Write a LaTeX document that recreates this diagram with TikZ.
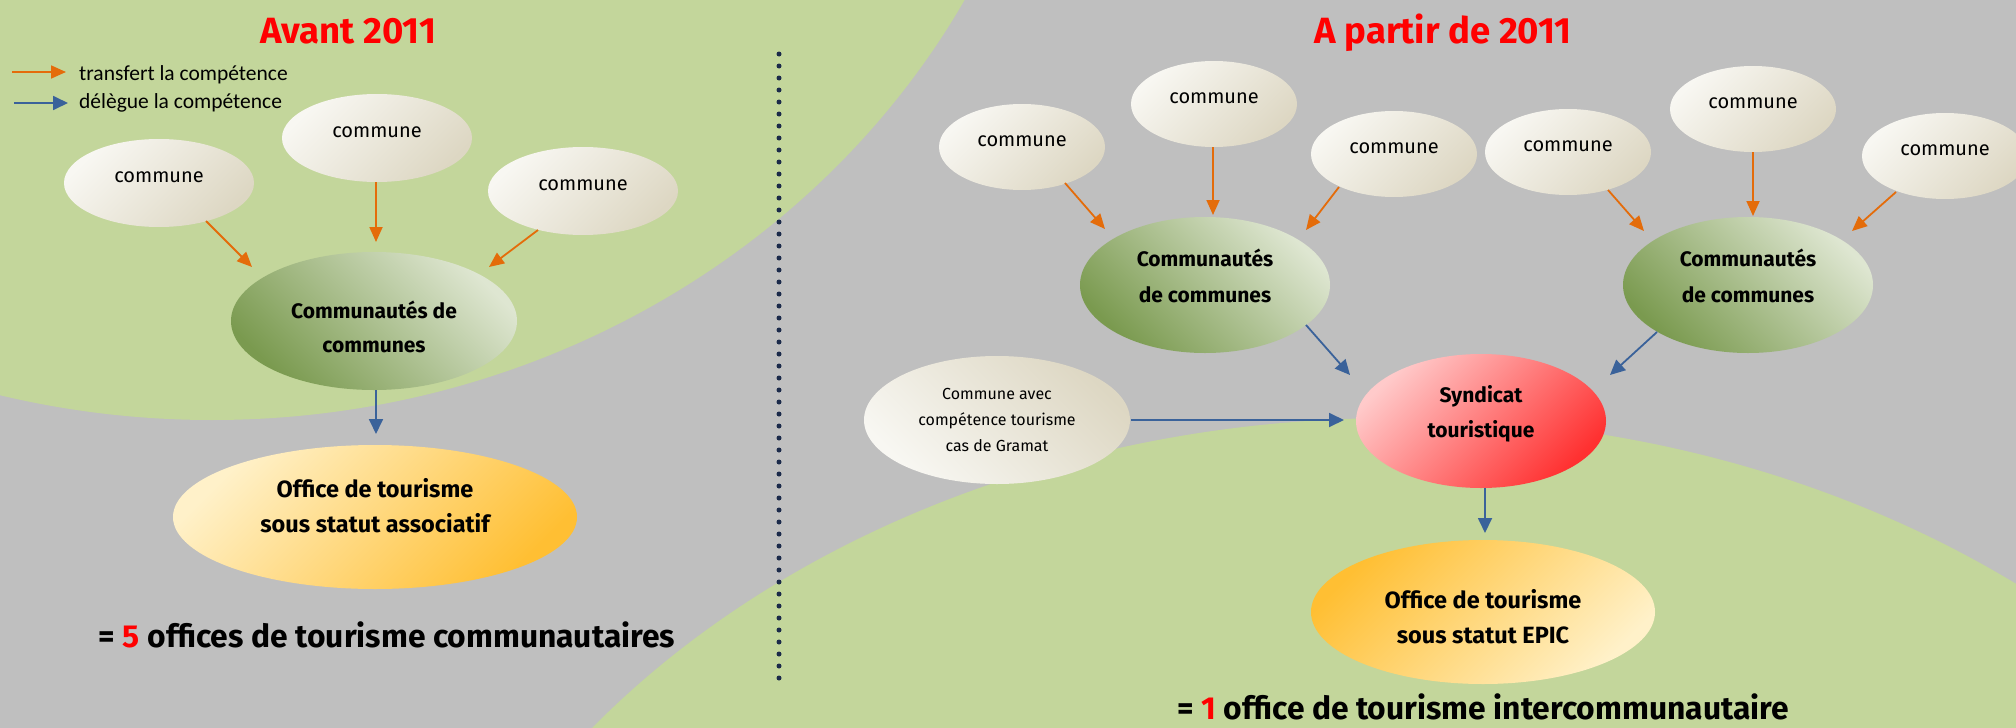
\documentclass[tikz,border=0pt]{standalone}
\usepackage{fontspec}
\setmainfont{Fira Sans}
\newfontfamily\legfont{Carlito}
\usetikzlibrary{shapes.geometric,arrows.meta,calc}
\definecolor{bggray}{HTML}{BFBFBF}
\definecolor{bggreen}{HTML}{C3D69B}
\definecolor{comL}{HTML}{F8F7F2}
\definecolor{comD}{HTML}{DDD7C3}
\definecolor{cdcL}{HTML}{DEE6D1}
\definecolor{cdcD}{HTML}{7A9A4F}
\definecolor{offL}{HTML}{FFF1C9}
\definecolor{offD}{HTML}{FFBF33}
\definecolor{synL}{HTML}{FFCACA}
\definecolor{synD}{HTML}{FF3030}
\definecolor{arrorange}{HTML}{E46C0A}
\definecolor{arrblue}{HTML}{3A629A}
\definecolor{dotnavy}{HTML}{1B2A4A}
\begin{document}
\begin{tikzpicture}[x=1pt,y=-1pt,
  comA/.style={ellipse,inner sep=0pt,minimum width=190pt,minimum height=88pt,top color=comL,bottom color=comD,shading angle=45},
  comB/.style={ellipse,inner sep=0pt,minimum width=166pt,minimum height=86pt,top color=comL,bottom color=comD,shading angle=45},
  gramshape/.style={ellipse,inner sep=0pt,minimum width=266pt,minimum height=128pt,top color=comD,bottom color=comL,shading angle=-45},
  cdcshape/.style={ellipse,inner sep=0pt,top color=cdcL,bottom color=cdcD,shading angle=-45},
  offAshape/.style={ellipse,inner sep=0pt,minimum width=404pt,minimum height=144pt,top color=offL,bottom color=offD,shading angle=45},
  offBshape/.style={ellipse,inner sep=0pt,minimum width=344pt,minimum height=144pt,top color=offD,bottom color=offL,shading angle=45},
  synshape/.style={ellipse,inner sep=0pt,minimum width=250pt,minimum height=134pt,top color=synL,bottom color=synD,shading angle=45},
  lblR/.style={inner sep=0pt,align=center,font=\fontsize{20}{20}\selectfont},
  lblS/.style={inner sep=0pt,align=center,font=\fontsize{16}{26}\selectfont},
  lblB/.style={inner sep=0pt,align=center,font=\bfseries\fontsize{21}{34}\selectfont},
  lblO/.style={inner sep=0pt,align=center,font=\bfseries\fontsize{23.5}{35}\selectfont},
  ttl/.style={inner sep=0pt,anchor=base,text=red,font=\bfseries\fontsize{36.5}{36.5}\selectfont},
  total/.style={inner sep=0pt,anchor=base,font=\bfseries\fontsize{31.8}{31.8}\selectfont},
  legtext/.style={inner sep=0pt,anchor=base west,font=\legfont\fontsize{21.5}{21.5}\selectfont},
  oarr/.style={draw=arrorange,line width=1.8pt,-{Triangle[length=15pt,width=13pt]}},
  barr/.style={draw=arrblue,line width=1.8pt,-{Triangle[length=15pt,width=14pt]}},
  sepline/.style={draw=dotnavy,line width=5pt,line cap=round,dash pattern=on 0pt off 12pt}]
\useasboundingbox (0,0) rectangle (2016,728);
% background
\fill[bggray] (0,0) rectangle (2016,728);
\begin{scope}
  \clip (0,0) rectangle (2016,728);
  \fill[bggreen] (212,-380) ellipse [x radius=855, y radius=800];
  \fill[bggreen] (1396,1218) ellipse [x radius=1017, y radius=800];
\end{scope}

% titles
\node[ttl] (titleA) at (348,43) {Avant 2011};
\node[ttl] (titleB) at (1443,43) {A partir de 2011};

% legend
\coordinate (lgO1) at (12,72);
\coordinate (lgO2) at (66,72);
\draw[oarr] (lgO1) -- (lgO2);
\node[legtext] (lgOt) at (79,80) {transfert la compétence};
\coordinate (lgB1) at (14,103);
\coordinate (lgB2) at (68,103);
\draw[barr] (lgB1) -- (lgB2);
\node[legtext] (lgBt) at (79,108) {délègue la compétence};

% separator
\coordinate (sepT) at (779,54);
\coordinate (sepB) at (779,683);
\draw[sepline] (sepT) -- (sepB);

% ===== left panel =====
\node[comA] (c1) at (159,183) {};
\node[lblR] (c1t) at ($(c1)+(0,-5.5)$) {commune};
\node[comA] (c2) at (377,138) {};
\node[lblR] (c2t) at ($(c2)+(0,-5.5)$) {commune};
\node[comA] (c3) at (583,191) {};
\node[lblR] (c3t) at ($(c3)+(0,-5.5)$) {commune};
\node[cdcshape,minimum width=286pt,minimum height=138pt] (cdcA) at (374,321) {};
\node[lblB] (cdcAt) at ($(cdcA)+(0,6)$) {Communautés de\\communes};
\node[offAshape] (offA) at (375,517) {};
\node[lblO] (offAt) at ($(offA)+(0,-11)$) {Office de tourisme\\sous statut associatif};
\node[total] (totA) at (387,647) {= {\color{red}5} offices de tourisme communautaires};

\draw[oarr] ($(c1)+(47,38)$) -- ($(cdcA)+(-122,-54)$);
\draw[oarr] ($(c2)+(-1,44)$) -- ($(cdcA)+(2,-79)$);
\draw[oarr] ($(c3)+(-45,39)$) -- ($(cdcA)+(115,-54)$);
\draw[barr] ($(cdcA)+(2,69)$) -- ($(offA)+(1,-83)$);

% ===== right panel =====
\node[comB] (r1) at (1022,147) {};
\node[lblR] (r1t) at ($(r1)+(0,-6)$) {commune};
\node[comB] (r2) at (1214,104) {};
\node[lblR] (r2t) at ($(r2)+(0,-6)$) {commune};
\node[comB] (r3) at (1394,154) {};
\node[lblR] (r3t) at ($(r3)+(0,-6)$) {commune};
\node[comB] (r4) at (1568,152) {};
\node[lblR] (r4t) at ($(r4)+(0,-6)$) {commune};
\node[comB] (r5) at (1753,109) {};
\node[lblR] (r5t) at ($(r5)+(0,-6)$) {commune};
\node[comB] (r6) at (1945,156) {};
\node[lblR] (r6t) at ($(r6)+(0,-6)$) {commune};

\node[cdcshape,minimum width=250pt,minimum height=136pt] (cdcL) at (1205,285) {};
\node[lblB,font=\bfseries\fontsize{21}{36}\selectfont] (cdcLt) at ($(cdcL)+(0,-9)$) {Communautés\\de communes};
\node[cdcshape,minimum width=250pt,minimum height=136pt] (cdcR) at (1748,285) {};
\node[lblB,font=\bfseries\fontsize{21}{36}\selectfont] (cdcRt) at ($(cdcR)+(0,-9)$) {Communautés\\de communes};

\node[synshape] (syn) at (1481,421) {};
\node[lblB,font=\bfseries\fontsize{21}{35}\selectfont] (synt) at ($(syn)+(0,-7)$) {Syndicat\\touristique};
\node[gramshape] (gram) at (997,420) {};
\node[lblS] (gramt) at (gram) {Commune avec\\compétence tourisme\\cas de Gramat};
\node[offBshape] (offB) at (1483,612) {};
\node[lblO] (offBt) at ($(offB)+(0,5)$) {Office de tourisme\\sous statut EPIC};
\node[total] (totB) at (1483,719) {= {\color{red}1} office de tourisme intercommunautaire};

\draw[oarr] ($(r1)+(43,36)$) -- ($(cdcL)+(-100,-56)$);
\draw[oarr] ($(r2)+(-1,43)$) -- ($(cdcL)+(8,-70)$);
\draw[oarr] ($(r3)+(-55,33)$) -- ($(cdcL)+(101,-55)$);
\draw[oarr] ($(r4)+(40,38)$) -- ($(cdcR)+(-104,-54)$);
\draw[oarr] ($(r5)+(0,43)$) -- ($(cdcR)+(5,-69)$);
\draw[oarr] ($(r6)+(-49,36)$) -- ($(cdcR)+(104,-54)$);
\draw[barr] ($(cdcL)+(101,40)$) -- ($(syn)+(-131,-46)$);
\draw[barr] ($(cdcR)+(-91,47)$) -- ($(syn)+(129,-46)$);
\draw[barr] ($(gram)+(134,0)$) -- ($(syn)+(-137,-1)$);
\draw[barr] ($(syn)+(4,67)$) -- ($(offB)+(2,-79)$);
\end{tikzpicture}
\end{document}
